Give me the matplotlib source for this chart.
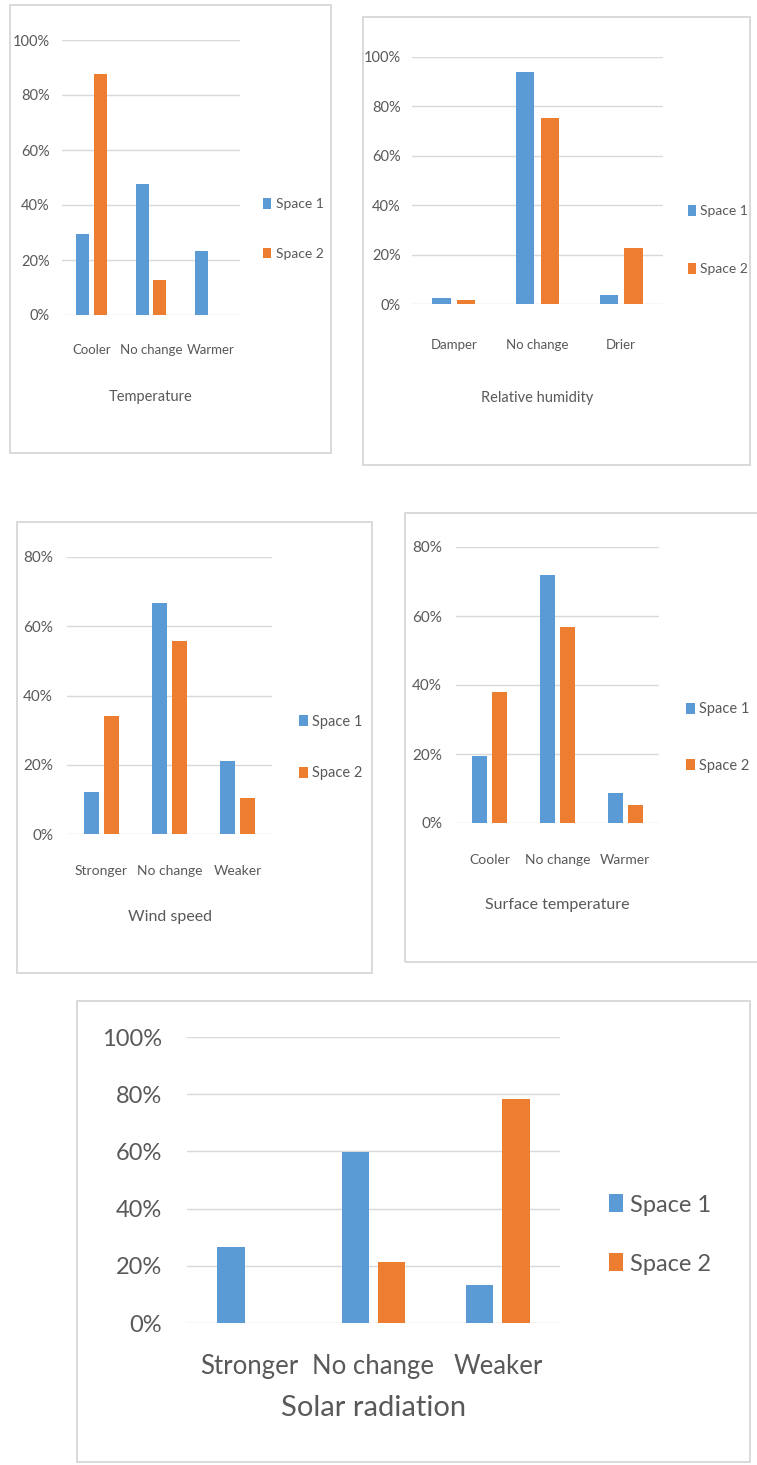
import matplotlib.pyplot as plt
import matplotlib.patches as mpatches
import numpy as np

W, H = 757, 1465
BLUE = '#5B9BD5'
ORANGE = '#ED7D31'
GRID = '#D9D9D9'
TEXT = '#595959'
FONT = ['Lato', 'DejaVu Sans']

series_names = ['Space 1', 'Space 2']

# survey answers, share of respondents (%)
temp_cats = ['Cooler', 'No change', 'Warmer']
temp_s1 = [29.5, 47.5, 23.2]
temp_s2 = [87.5, 12.6, 0.0]

rh_cats = ['Damper', 'No change', 'Drier']
rh_s1 = [2.4, 93.8, 3.8]
rh_s2 = [1.8, 75.2, 22.8]

wind_cats = ['Stronger', 'No change', 'Weaker']
wind_s1 = [12.0, 66.6, 21.0]
wind_s2 = [34.2, 55.7, 10.3]

surf_cats = ['Cooler', 'No change', 'Warmer']
surf_s1 = [19.5, 71.9, 8.6]
surf_s2 = [38.1, 56.7, 5.2]

solar_cats = ['Stronger', 'No change', 'Weaker']
solar_s1 = [26.5, 59.9, 13.2]
solar_s2 = [0.0, 21.3, 78.3]

fig = plt.figure(figsize=(W / 100, H / 100), dpi=100)
fig.patch.set_facecolor('white')


def fx(x):
    return x / W


def fy(y):
    return 1 - y / H


def frame(x0, y0, x1, y1):
    fig.patches.append(mpatches.Rectangle((fx(x0), fy(y1)), fx(x1) - fx(x0), fy(y0) - fy(y1),
                                          transform=fig.transFigure, fill=False,
                                          edgecolor=GRID, linewidth=1.4))


def panel(box, area, cats, s1, s2, ymax, xlabel, xlabel_y, legend_x, legend_y,
          y_fs, x_fs, label_fs, leg_fs, ypad, xpad, spacing):
    frame(*box)
    x0, y0, x1, y1 = area
    ax = fig.add_axes([fx(x0), fy(y1), fx(x1) - fx(x0), fy(y0) - fy(y1)])
    x = np.arange(len(cats))
    bw, off = 0.22, 0.147
    ax.bar(x - off, np.array(s1) / 100, bw, color=BLUE, label=series_names[0], zorder=3)
    ax.bar(x + off, np.array(s2) / 100, bw, color=ORANGE, label=series_names[1], zorder=3)
    ax.set_xlim(-0.5, len(cats) - 0.5)
    ax.set_ylim(0, ymax)
    ticks = np.arange(0, ymax + 0.001, 0.2)
    ax.set_yticks(ticks)
    ax.set_yticklabels([f'{int(round(t * 100))}%' for t in ticks], family=FONT,
                       fontsize=y_fs, color=TEXT)
    ax.set_xticks(x)
    ax.set_xticklabels(cats, family=FONT, fontsize=x_fs, color=TEXT)
    ax.tick_params(axis='y', length=0, pad=ypad)
    ax.tick_params(axis='x', length=0, pad=xpad)
    ax.grid(axis='y', color=GRID, linewidth=1.0, zorder=0)
    ax.set_axisbelow(True)
    for s in ax.spines.values():
        s.set_visible(False)
    ax.patch.set_alpha(0)
    fig.text(fx((x0 + x1) / 2), fy(xlabel_y), xlabel, ha='center', va='center',
             family=FONT, fontsize=label_fs, color=TEXT)
    leg = ax.legend(loc='center left', bbox_to_anchor=(fx(legend_x), fy(legend_y)),
                    bbox_transform=fig.transFigure, frameon=False,
                    prop={'family': FONT, 'size': leg_fs}, handlelength=0.6,
                    handleheight=0.8, handletextpad=0.3, labelspacing=spacing,
                    borderaxespad=0, borderpad=0)
    for t in leg.get_texts():
        t.set_color(TEXT)
    return ax


panel((10, 5, 331, 453), (62, 40, 240, 315), temp_cats, temp_s1, temp_s2, 1.0,
      'Temperature', 397, 263, 229, 10.5, 9.5, 10.5, 10, 9, 21, 2.7)
panel((363, 17, 750, 465), (412, 57, 663, 304), rh_cats, rh_s1, rh_s2, 1.0,
      'Relative humidity', 398, 688, 240, 10.5, 9.5, 10.5, 10, 8, 25, 3.3)
panel((17, 522, 372, 973), (67, 557, 272, 834), wind_cats, wind_s1, wind_s2, 0.8,
      'Wind speed', 917, 299, 747.5, 11, 10, 11.5, 10.5, 10, 22, 2.6)
panel((405, 513, 770, 962), (456, 547, 659, 823), surf_cats, surf_s1, surf_s2, 0.8,
      'Surface temperature', 905, 686, 737.5, 11, 10, 11.5, 10.5, 10, 22, 2.9)
panel((77, 1001, 750, 1462), (187, 1037, 560, 1323), solar_cats, solar_s1, solar_s2, 1.0,
      'Solar radiation', 1408, 609, 1234.5, 17, 18.5, 21, 17, 18, 22, 1.6)

fig.savefig('out.png', dpi=100, facecolor='white')
